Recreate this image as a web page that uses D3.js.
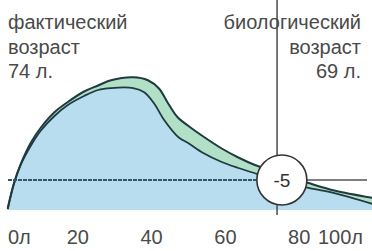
<!DOCTYPE html>
<html>
<head>
<meta charset="utf-8">
<script src="https://cdn.jsdelivr.net/npm/d3@7"></script>
<style>
  html, body { margin: 0; padding: 0; background: #fff; }
  svg { display: block; }
  text { font-family: "Liberation Sans", Arial, sans-serif; }
</style>
</head>
<body>
<div id="chart"></div>
<script>
'use strict';

// age ticks along the bottom
var tickAges = [0, 20, 40, 60, 80, 100];
var tickLabels = ['0л', '20', '40', '60', '80', '100л'];

// outer curve (top edge of green band)
var outerAges   = [1, 2.7, 4.6, 7.3, 10, 13.6, 17.3, 21.7, 25.5, 29, 35, 39, 42, 44.5, 47, 50, 54, 59, 63.5, 68, 75, 82.5, 89.5, 100];
var outerLevels = [3, 20, 33, 47, 57, 67, 74, 81, 85, 88.5, 90.5, 88.5, 83, 73, 64, 58, 51, 43, 37, 32, 26, 20, 15, 10];

// inner curve (top edge of blue area)
var innerAges   = [1, 2.7, 4.6, 7.3, 10, 13.6, 17.3, 21.7, 25.5, 29, 35, 38, 40.6, 43.4, 47.2, 50, 54, 59, 63.5, 68, 75, 82.5, 89.5, 100];
var innerLevels = [2.5, 19.3, 32.5, 45, 55, 64.5, 72, 78, 82, 83.3, 83.3, 80.5, 73.3, 62, 50.7, 46.5, 40, 34, 30, 26.5, 21.3, 16.7, 13.3, 6];

var factAge = 74;
var bioAge = 69;
var refLevel = 22;
var baseLevel = 2;
var markerAge = 75.3;

var leftLabel = ['фактический', 'возраст', factAge + ' л.'];
var rightLabel = ['биологический', 'возраст', bioAge + ' л.'];

var W = 372, H = 251;
var textColor = '#4a4a4a';
var lineColor = '#1f3a40';

var svg = d3.select('#chart').append('svg').attr('width', W).attr('height', H);

var x = d3.scaleLinear().domain([0, 100]).range([4, 373]);
var y = d3.scaleLinear().domain([0, 100]).range([213, 63]);

var outer = outerAges.map(function(a, i) { return {a: a, v: outerLevels[i]}; });
var inner = innerAges.map(function(a, i) { return {a: a, v: innerLevels[i]}; });

var area = d3.area()
    .x(function(d) { return x(d.a); })
    .y0(y(baseLevel))
    .y1(function(d) { return y(Math.max(d.v, baseLevel)); })
    .curve(d3.curveCatmullRom.alpha(0.5));

var line = d3.line()
    .x(function(d) { return x(d.a); })
    .y(function(d) { return y(d.v); })
    .curve(d3.curveCatmullRom.alpha(0.5));

// green band = outer area, blue = inner area on top
svg.append('path').datum(outer).attr('d', area).attr('fill', '#b2e0c6');
svg.append('path').datum(inner).attr('d', area).attr('fill', '#b8ddee');

svg.append('path').datum(outer).attr('d', line)
    .attr('fill', 'none').attr('stroke', lineColor).attr('stroke-width', 2);
svg.append('path').datum(inner).attr('d', line)
    .attr('fill', 'none').attr('stroke', lineColor).attr('stroke-width', 1.8);

// reference lines
var cx = x(markerAge), cy = y(refLevel), r = 25;

svg.append('line')
    .attr('x1', 8).attr('x2', cx - r)
    .attr('y1', cy).attr('y2', cy)
    .attr('stroke', '#2c5a66').attr('stroke-width', 1.8)
    .attr('stroke-dasharray', '4,1');

svg.append('line')
    .attr('x1', cx + r).attr('x2', 367)
    .attr('y1', cy).attr('y2', cy)
    .attr('stroke', '#555').attr('stroke-width', 1.5);

svg.append('line')
    .attr('x1', x(factAge)).attr('x2', x(factAge))
    .attr('y1', 0).attr('y2', 215)
    .attr('stroke', '#555').attr('stroke-width', 1.6);

svg.append('circle')
    .attr('cx', cx).attr('cy', cy).attr('r', r)
    .attr('fill', '#fff').attr('stroke', '#333').attr('stroke-width', 1.6);

svg.append('text')
    .attr('x', cx).attr('y', cy + 7)
    .attr('text-anchor', 'middle')
    .style('font-size', '19px').attr('fill', '#333')
    .text(bioAge - factAge);

// corner labels
var baselines = [29, 53.5, 78];

svg.selectAll('.lbl-l').data(leftLabel).enter().append('text')
    .attr('class', 'lbl-l')
    .attr('x', 8).attr('y', function(d, i) { return baselines[i]; })
    .style('font-size', '20px').attr('fill', textColor)
    .text(function(d) { return d; });

svg.selectAll('.lbl-r').data(rightLabel).enter().append('text')
    .attr('class', 'lbl-r')
    .attr('x', 361).attr('y', function(d, i) { return baselines[i]; })
    .attr('text-anchor', 'end')
    .style('font-size', '20px').attr('fill', textColor)
    .text(function(d) { return d; });

// tick labels
svg.selectAll('.tick').data(tickAges).enter().append('text')
    .attr('class', 'tick')
    .attr('x', function(d, i) {
        if (i === 0) return x(d) + 4;
        if (i === tickAges.length - 1) return x(d) - 10;
        return x(d);
    })
    .attr('y', 244)
    .attr('text-anchor', function(d, i) {
        return i === 0 ? 'start' : (i === tickAges.length - 1 ? 'end' : 'middle');
    })
    .style('font-size', '20px').attr('fill', textColor)
    .text(function(d, i) { return tickLabels[i]; });
</script>
</body>
</html>
